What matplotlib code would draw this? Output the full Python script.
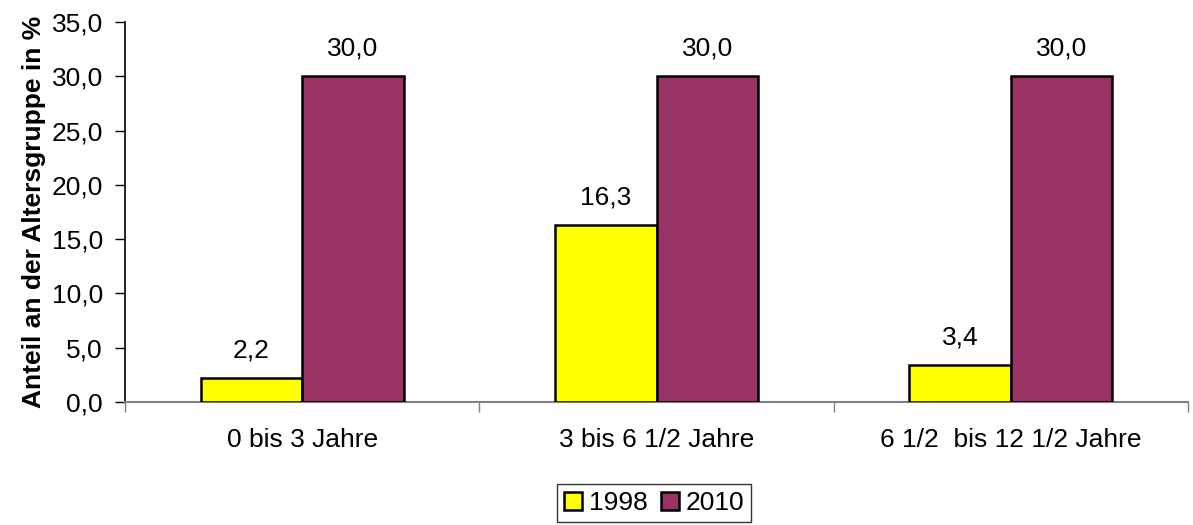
import matplotlib
matplotlib.use("Agg")
import matplotlib.pyplot as plt
import numpy as np

categories = ["0 bis 3 Jahre", "3 bis 6 1/2 Jahre", "6 1/2  bis 12 1/2 Jahre"]
series_names = ["1998", "2010"]
values_1998 = [2.2, 16.3, 3.4]
values_2010 = [30.0, 30.0, 30.0]
yticks = [0, 5, 10, 15, 20, 25, 30, 35]

plt.rcParams['font.family'] = ['Liberation Sans', 'DejaVu Sans']
FS = 19

fig = plt.figure(figsize=(11.93, 5.25), dpi=100)
ax = fig.add_axes([125/1193, 1-402/525, (1188-125)/1193, (402-22)/525])

x = np.arange(len(categories))
w = 0.286
colors = ["#FFFF00", "#993366"]
b1 = ax.bar(x - w/2, values_1998, w, color=colors[0], edgecolor="black", linewidth=1.8, label=series_names[0], zorder=3)
b2 = ax.bar(x + w/2, values_2010, w, color=colors[1], edgecolor="black", linewidth=1.8, label=series_names[1], zorder=3)

fmt = lambda v: f"{v:.1f}".replace(".", ",")
for bars, vals in ((b1, values_1998), (b2, values_2010)):
    for r, v in zip(bars, vals):
        ax.annotate(fmt(v), (r.get_x() + r.get_width()/2, v), xytext=(0, 20),
                    textcoords="offset points", ha="center", va="center", fontsize=FS)

ax.set_xlim(-0.5, len(categories) - 0.5)
ax.set_ylim(0, 35)
ax.set_yticks(yticks)
ax.set_yticklabels([fmt(t) for t in yticks], fontsize=FS)
ax.set_xticks(x)
ax.set_xticklabels(categories, fontsize=FS)
ax.tick_params(axis="x", which="major", length=0, pad=19)
ax.set_xticks(np.arange(len(categories) + 1) - 0.5, minor=True)
ax.tick_params(axis="x", which="minor", length=7, width=1, color="#808080", direction="out")
ax.tick_params(axis="y", length=7, width=1, direction="out", pad=9)

for s in ("top", "right"):
    ax.spines[s].set_visible(False)
ax.spines["left"].set_color("black")
ax.spines["left"].set_linewidth(1.2)
ax.spines["bottom"].set_color("#808080")
ax.spines["bottom"].set_linewidth(1.5)

ax.set_ylabel("Anteil an der Altersgruppe in %", fontsize=FS, fontweight="bold", labelpad=4)

leg = fig.legend(loc="center", bbox_to_anchor=(654/1193, 1-503/525), ncol=2, fontsize=FS,
                 frameon=True, fancybox=False, edgecolor="black", handlelength=0.7, handleheight=0.7,
                 handletextpad=0.25, columnspacing=0.5, borderpad=0.25)
leg.get_frame().set_linewidth(1.0)

fig.savefig("out.png", dpi=100)
